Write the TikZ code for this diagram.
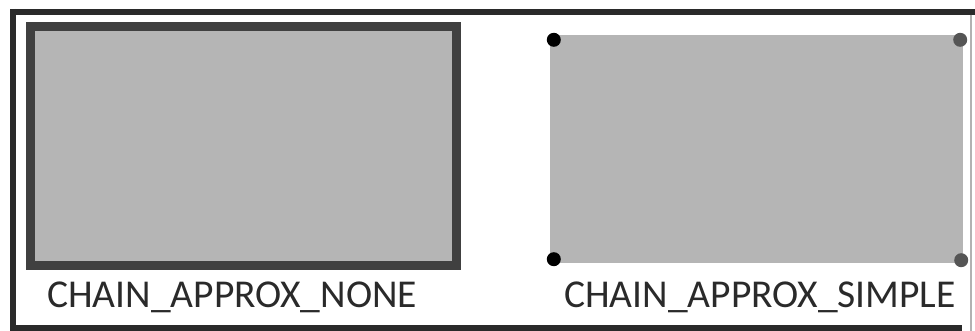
\documentclass[tikz,border=0pt]{standalone}
\usepackage{fontspec}
\setmainfont{Carlito}
\usepackage{xcolor}
\usetikzlibrary{calc, positioning}

\definecolor{frameink}{HTML}{2A2A2A}
\definecolor{boxgray}{HTML}{B5B5B5}
\definecolor{edgegray}{HTML}{404040}
\definecolor{dotgray}{HTML}{555555}

\tikzset{
    chainbox/.style={rectangle, inner sep=0pt, fill=boxgray},
    corner/.style={circle, inner sep=0pt, minimum size=14pt, fill=#1},
    caption/.style={font=\fontsize{39.5}{44}\selectfont, text=frameink, inner sep=0pt}
}

\begin{document}
\begin{tikzpicture}[x=1pt, y=-1pt]
    \useasboundingbox (0,0) rectangle (975,331);
    % frame
    \draw[frameink, line width=6pt] (10,12) -- (975,12);
    \draw[frameink, line width=6pt] (13,9) -- (13,331);
    \draw[frameink, line width=6pt] (10,328) -- (962,328);
    \draw[gray!60, line width=1.5pt] (971,15) -- (971,331);

    % left: every point of the contour
    \node[chainbox, draw=edgegray, line width=9pt,
          minimum width=426pt, minimum height=239pt] (none) at (243.5,146) {};
    \node[caption] (nonelabel) at (232,297) {CHAIN\_APPROX\_NONE};

    % right: only the corner points
    \node[chainbox, minimum width=413pt, minimum height=228pt] (simple) at (756.5,149) {};
    \node[corner=black] (nw) at ([shift={(4,5)}]simple.north west) {};
    \node[corner=black] (sw) at ([shift={(4,-4)}]simple.south west) {};
    \node[corner=dotgray] (ne) at ([shift={(-3,5)}]simple.north east) {};
    \node[corner=dotgray] (se) at ([shift={(-2,-3)}]simple.south east) {};
    \node[caption] (simplelabel) at (760,297) {CHAIN\_APPROX\_SIMPLE};
\end{tikzpicture}
\end{document}
